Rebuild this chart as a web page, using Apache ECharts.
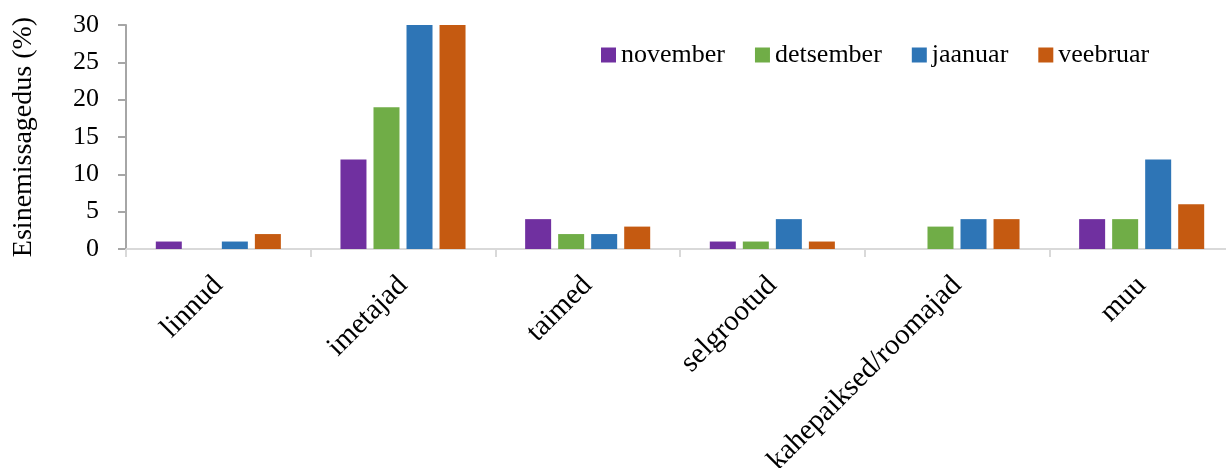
<!DOCTYPE html>
<html>
<head>
<meta charset="utf-8">
<script src="https://cdn.jsdelivr.net/npm/echarts@6/dist/echarts.min.js"></script>
<style>
  html, body { margin: 0; padding: 0; background: #fff; overflow: hidden; }
  #main { width: 1234px; height: 468px; }
</style>
</head>
<body>
<div id="main"></div>
<script>
// andmed
const categories = ['linnud', 'imetajad', 'taimed', 'selgrootud', 'kahepaiksed/roomajad', 'muu'];
const november = [1, 12, 4, 1, 0, 4];
const detsember = [0, 19, 2, 1, 3, 4];
const jaanuar = [1, 30, 2, 4, 4, 12];
const veebruar = [2, 30, 3, 1, 4, 6];
const yTicks = { min: 0, max: 30, interval: 5 };

const font = 'Liberation Serif';
// graafik on akennast veidi laiem, x-telg jookseb paremast servast välja
const myChart = echarts.init(document.getElementById('main'));

function bar(name, data, color) {
  return {
    name: name,
    type: 'bar',
    data: data,
    barWidth: 26,
    barGap: '27%',
    itemStyle: { color: color },
    emphasis: { disabled: true }
  };
}

const option = {
  animation: false,
  textStyle: { fontFamily: font, color: '#000' },
  legend: {
    top: 37,
    left: 596,
    itemWidth: 15,
    itemHeight: 15,
    itemGap: 30,
    icon: 'rect',
    textStyle: { fontFamily: font, fontSize: 26, color: '#000' },
    data: ['november', 'detsember', 'jaanuar', 'veebruar']
  },
  grid: { left: 126, right: 0, top: 25, bottom: 219, containLabel: false, outerBoundsMode: 'none' },
  xAxis: {
    type: 'category',
    data: categories,
    axisLine: { lineStyle: { color: '#d9d9d9', width: 2 } },
    axisTick: { show: true, length: 8, lineStyle: { color: '#d9d9d9', width: 2 } },
    axisLabel: { rotate: 45, margin: 32, fontSize: 29, fontFamily: font, color: '#000', interval: 0 }
  },
  yAxis: {
    type: 'value',
    min: yTicks.min,
    max: yTicks.max,
    interval: yTicks.interval,
    name: 'Esinemissagedus (%)',
    nameLocation: 'middle',
    nameGap: 88,
    nameTextStyle: { fontFamily: font, fontSize: 28, color: '#000' },
    axisLine: { show: true, lineStyle: { color: '#a6a6a6', width: 2 } },
    axisTick: { show: true, length: 8, lineStyle: { color: '#a6a6a6', width: 2 } },
    axisLabel: { margin: 27, fontSize: 26, fontFamily: font, color: '#000' },
    splitLine: { show: false }
  },
  series: [
    bar('november', november, '#7030a0'),
    bar('detsember', detsember, '#70ad47'),
    bar('jaanuar', jaanuar, '#2e75b6'),
    bar('veebruar', veebruar, '#c55a11')
  ]
};

myChart.setOption(option);
</script>
</body>
</html>
